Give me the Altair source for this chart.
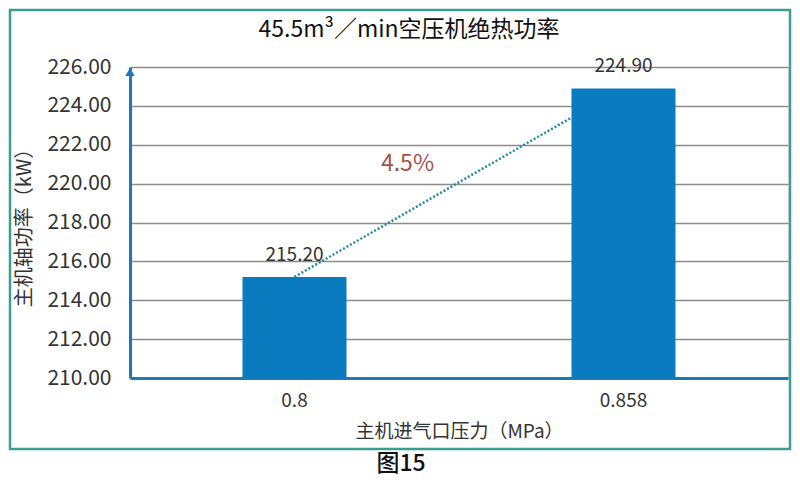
import altair as alt
import pandas as pd

# ---- data ----
pressures = ["0.8", "0.858"]
powers = [215.20, 224.90]
value_labels = ["215.20", "224.90"]
base_value = [210.0]
trend_from = [215.20]
trend_to = [223.40]
pct_text = ["4.5%"]
pct_y = [221.0]
y_ticks = [210, 212, 214, 216, 218, 220, 222, 224, 226]
axis_top = [226.0]
caption = ["图15"]

FONT = "Noto Sans CJK SC"
W, H = 658, 311

df = pd.DataFrame({"p": pressures, "v": powers, "lab": value_labels})
trend = pd.DataFrame({"p": [pressures[0]], "p2": [pressures[1]], "v": trend_from, "v2": trend_to})
pct = pd.DataFrame({"p": [pressures[0]], "v": pct_y, "t": pct_text})
top = pd.DataFrame({"v": axis_top})
one = pd.DataFrame({"t": caption})

xscale = alt.Scale(domain=pressures, paddingInner=0, paddingOuter=0)
yscale = alt.Scale(domain=[210, 226], nice=False, zero=False)

x_axis = alt.Axis(title="主机进气口压力（MPa）", labelAngle=0, ticks=False,
                  labelFontSize=19, labelColor="#333333", labelFont=FONT,
                  labelPadding=13, titleFontSize=19, titleFont=FONT,
                  titleFontWeight="normal", titleColor="#333333", titlePadding=12,
                  domainColor="#1a7ab5", domainWidth=3, grid=False)
y_axis = alt.Axis(title="主机轴功率（kW）", values=y_ticks, format=".2f", ticks=False,
                  labelOverlap=False, tickCount=9, labelFontSize=21, labelColor="#333333",
                  labelFont=FONT, labelPadding=19, titleFontSize=20, titleFont=FONT,
                  titleFontWeight="normal", titleColor="#333333", titlePadding=12,
                  domainColor="#1a7ab5", domainWidth=3,
                  grid=True, gridColor="#8c8c8c", gridWidth=1.5)

x_enc = alt.X("p:N", scale=xscale, sort=pressures, axis=x_axis)
y_enc = alt.Y("v:Q", scale=yscale, axis=y_axis)

bars = alt.Chart(df).mark_bar(size=104, color="#0a7bbf").encode(
    x=x_enc, y=y_enc, y2=alt.datum(base_value[0]))

labels = alt.Chart(df).mark_text(baseline="bottom", dy=-12, fontSize=19, font=FONT,
                                 color="#333333").encode(x=x_enc, y=y_enc, text="lab:N")

trend_line = alt.Chart(trend).mark_rule(color="#1f8aa8", strokeWidth=2.5, strokeDash=[2, 2],
                                        x2Offset=-52).encode(
    x=x_enc, x2="p2:N", y=y_enc, y2="v2:Q")

pct_mark = alt.Chart(pct).mark_text(dx=113, fontSize=23, font=FONT, color="#a5524c",
                                    baseline="middle").encode(x=x_enc, y=y_enc, text="t:N")

arrow = alt.Chart(top).mark_point(shape="triangle-up", filled=True, size=90, opacity=1,
                                  color="#1a7ab5", yOffset=5).encode(
    x=alt.value(0), y=y_enc)

border = alt.Chart(one).mark_rect(filled=False, stroke="#3a9e8e", strokeWidth=2.5).encode(
    x=alt.value(-120), x2=alt.value(W + 2), y=alt.value(-57), y2=alt.value(382))

cap = alt.Chart(one).mark_text(fontSize=23, font=FONT, fontWeight=500, color="#111111",
                               baseline="middle").encode(
    x=alt.value(271), y=alt.value(397), text="t:N")

chart = alt.layer(border, bars, trend_line, labels, pct_mark, arrow, cap).properties(
    width=W, height=H,
    title=alt.TitleParams("45.5m³／min空压机绝热功率", fontSize=23, font=FONT,
                          fontWeight="normal", color="#111111", anchor="middle",
                          frame="group", dx=-50, offset=-33),
    autosize=alt.AutoSizeParams(type="none"),
    padding={"left": 122, "top": 59, "right": 4, "bottom": 100},
).configure_view(stroke=None).configure(background="white")

chart.save("out.html", embed_options={"renderer": "svg", "actions": False})
